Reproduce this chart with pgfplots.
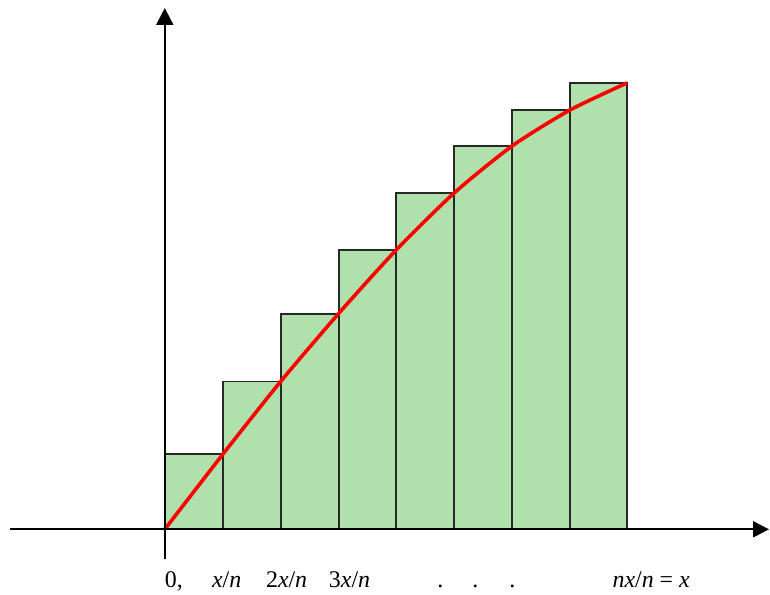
\documentclass[border=0pt]{standalone}
\usepackage{pgfplots}
\pgfplotsset{compat=1.18}
\usepackage{fontspec}
\setmainfont{Liberation Serif}
\usetikzlibrary{arrows.meta}
\begin{document}
\begin{tikzpicture}
\begin{axis}[
  x=1bp, y=1bp,
  xmin=-165, xmax=605, ymin=-64, ymax=530,
  hide axis, clip=false,
]
\path (axis cs:-165,-64) rectangle (axis cs:605,530);
\addplot[ybar interval, fill={rgb,255:red,176;green,224;blue,172}, draw={rgb,255:red,40;green,40;blue,40}, /tikz/line width=2bp]
  coordinates {(0,75) (58,148) (116,216) (174,280) (232,337) (290,384) (348,420) (406,447) (463,447)};
\addplot[red, line width=3.6bp, smooth, tension=0.4]
  coordinates {(0,0) (58,75) (116,148) (174,216) (232,280) (290,337) (348,384) (406,420) (463,447)};
\draw[line width=2bp, -{Triangle[length=16bp,width=16bp]}] (axis cs:-155,0) -- (axis cs:605,0);
\draw[line width=2bp, -{Triangle[length=17bp,width=17bp]}] (axis cs:0,-30) -- (axis cs:0,522);
\begin{scope}[every node/.style={font=\fontsize{24}{28}\selectfont, anchor=base}]
\node at (axis cs:9,-58) {0,};
\node at (axis cs:62,-58) {\textit{x}/\textit{n}};
\node at (axis cs:122,-58) {2\textit{x}/\textit{n}};
\node at (axis cs:185,-58) {3\textit{x}/\textit{n}};
\node at (axis cs:276,-58) {.};
\node at (axis cs:311,-58) {.};
\node at (axis cs:348,-58) {.};
\node at (axis cs:487,-58) {\textit{nx}/\textit{n} = \textit{x}};
\end{scope}
\end{axis}
\end{tikzpicture}
\end{document}
